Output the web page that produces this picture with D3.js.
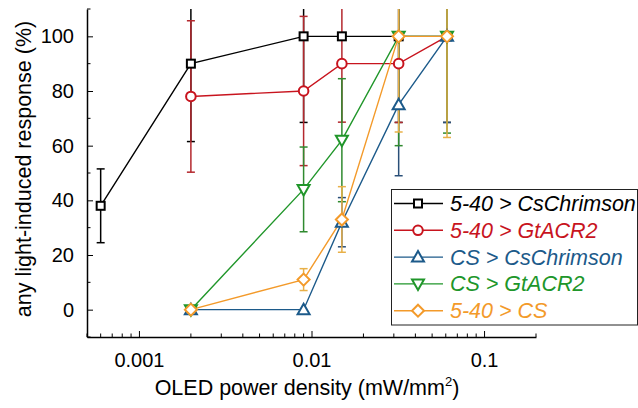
<!DOCTYPE html>
<html>
<head>
<meta charset="utf-8">
<script src="https://cdn.jsdelivr.net/npm/d3@7"></script>
<style>
  body { margin: 0; background: #fff; }
  text { font-family: "Liberation Sans", Arial, sans-serif; }
</style>
</head>
<body>
<svg width="638" height="408"></svg>
<script>
// OLED power density (mW/mm2) per stimulus step
var doses = [0.0006, 0.002, 0.009, 0.015, 0.032, 0.061];

var names = ["5-40 > CsChrimson", "5-40 > GtACR2", "CS > CsChrimson", "CS > GtACR2", "5-40 > CS"];
var colors = ["#000000", "#c8141e", "#1c5a8a", "#20962a", "#f39a2a"];
var barColors = ["#000000", "#b4282e", "#2a4f78", "#2f8a2f", "#e8b048"];
var symbols = ["square", "circle", "up", "down", "diamond"];

// response (%) and error, null where no point
var chrimson540 = [38, 90, 100, 100, 100, 100];
var chrimson540Err = [13.5, 28.5, 31.5, 0, 31.5, 31.5];
var gtacr540 = [null, 78, 80, 90, 90, 100];
var gtacr540Err = [null, 27.7, 27.3, 21.4, 21.5, 0];
var chrimsonCS = [null, 0, 0, 32, 75, 100];
var chrimsonCSErr = [null, 0, 0, 9, 26, 31.5];
var gtacrCS = [null, 0, 44, 62, 100, 100];
var gtacrCSErr = [null, 0, 15.5, 22.5, 40, 35.4];
var cs540 = [null, 0, 11, 33, 100, 100];
var cs540Err = [null, 0, 4, 12, 35, 37];

var yTicks = [0, 20, 40, 60, 80, 100];
var xTicks = [0.001, 0.01, 0.1];

var values = [chrimson540, gtacr540, chrimsonCS, gtacrCS, cs540];
var errors = [chrimson540Err, gtacr540Err, chrimsonCSErr, gtacrCSErr, cs540Err];

var margin = {left: 87, right: 102, top: 9, bottom: 71};
var width = 638, height = 408;

var x = d3.scaleLog().domain([0.0005, 0.2]).range([margin.left, width - margin.right]);
var y = d3.scaleLinear().domain([-10, 110]).range([height - margin.bottom, margin.top]);

var svg = d3.select("svg");

svg.append("clipPath").attr("id", "plot")
  .append("rect")
  .attr("x", margin.left).attr("y", margin.top)
  .attr("width", width - margin.left - margin.right)
  .attr("height", height - margin.top - margin.bottom);

// series as point lists
var series = values.map(function (vals, i) {
  var pts = [];
  vals.forEach(function (v, j) {
    if (v !== null) pts.push({x: doses[j], y: v, e: errors[i][j]});
  });
  return {name: names[i], color: colors[i], bar: barColors[i], sym: symbols[i], pts: pts};
});

var plot = svg.append("g").attr("clip-path", "url(#plot)");

// error bars first
series.forEach(function (s) {
  var g = plot.append("g");
  s.pts.filter(function (p) { return p.e > 0; }).forEach(function (p) {
    var cx = x(p.x);
    g.append("line").attr("x1", cx).attr("x2", cx)
      .attr("y1", y(p.y - p.e)).attr("y2", y(p.y + p.e))
      .attr("stroke", s.bar).attr("stroke-width", 1.5);
    [p.y - p.e, p.y + p.e].forEach(function (v) {
      g.append("line").attr("x1", cx - 4).attr("x2", cx + 4)
        .attr("y1", y(v)).attr("y2", y(v))
        .attr("stroke", s.bar).attr("stroke-width", 1.5);
    });
  });
});

var line = d3.line().x(function (d) { return x(d.x); }).y(function (d) { return y(d.y); });

series.forEach(function (s) {
  plot.append("path").datum(s.pts)
    .attr("d", line).attr("fill", "none")
    .attr("stroke", s.color).attr("stroke-width", 1.4);
});

function drawSymbol(g, kind, cx, cy, color) {
  var m;
  if (kind === "square") {
    m = g.append("rect").attr("x", cx - 4).attr("y", cy - 4).attr("width", 8).attr("height", 8);
  } else if (kind === "circle") {
    m = g.append("circle").attr("cx", cx).attr("cy", cy).attr("r", 4.8);
  } else if (kind === "up") {
    m = g.append("path").attr("d", "M" + cx + "," + (cy - 6) + "L" + (cx + 6) + "," + (cy + 4.5) + "L" + (cx - 6) + "," + (cy + 4.5) + "Z");
  } else if (kind === "down") {
    m = g.append("path").attr("d", "M" + cx + "," + (cy + 6) + "L" + (cx + 6) + "," + (cy - 4.5) + "L" + (cx - 6) + "," + (cy - 4.5) + "Z");
  } else {
    m = g.append("path").attr("d", "M" + cx + "," + (cy - 6) + "L" + (cx + 6) + "," + cy + "L" + cx + "," + (cy + 6) + "L" + (cx - 6) + "," + cy + "Z");
  }
  m.attr("fill", "#fff").attr("stroke", color).attr("stroke-width", 2);
}

series.forEach(function (s) {
  var g = svg.append("g");
  s.pts.forEach(function (p) { drawSymbol(g, s.sym, x(p.x), y(p.y), s.color); });
});

// axes, ticks pointing inward
var xAxis = d3.axisBottom(x).tickValues(xTicks).tickFormat(d3.format("")).tickSizeInner(-6).tickSizeOuter(0).tickPadding(16);
var gx = svg.append("g").attr("transform", "translate(0," + (height - margin.bottom) + ")").call(xAxis);
var minorX = x.ticks().filter(function (t) { return xTicks.indexOf(t) < 0; });
gx.selectAll(".minor").data(minorX).enter().append("line")
  .attr("x1", function (d) { return x(d); }).attr("x2", function (d) { return x(d); })
  .attr("y1", 0).attr("y2", -3.5).attr("stroke", "#000");

var yAxis = d3.axisLeft(y).tickValues(yTicks).tickSizeInner(-6).tickSizeOuter(0).tickPadding(13);
var gy = svg.append("g").attr("transform", "translate(" + margin.left + ",0)").call(yAxis);
gy.selectAll(".minor").data([-10, 10, 30, 50, 70, 90, 110]).enter().append("line")
  .attr("x1", 0).attr("x2", 3.5)
  .attr("y1", function (d) { return y(d); }).attr("y2", function (d) { return y(d); })
  .attr("stroke", "#000");

[gx, gy].forEach(function (g) {
  g.select(".domain").attr("stroke-width", 1.5);
  g.selectAll("text").attr("font-size", 20).attr("fill", "#000")
    .style("font-family", "'Liberation Sans', Arial, sans-serif");
});

svg.append("text")
  .attr("transform", "translate(31," + 169 + ") rotate(-90)")
  .attr("text-anchor", "middle").attr("font-size", 21.5)
  .text("any light-induced response (%)");

var xt = svg.append("text")
  .attr("x", 307).attr("y", 395)
  .attr("text-anchor", "middle").attr("font-size", 21.5)
  .text("OLED power density (mW/mm");
xt.append("tspan").attr("font-size", 13).attr("dy", -9).text("2");
xt.append("tspan").attr("dy", 9).text(")");

// legend
var lg = svg.append("g");
lg.append("rect").attr("x", 391.5).attr("y", 189.5).attr("width", 246).attr("height", 135.5)
  .attr("fill", "#fff").attr("stroke", "#222").attr("stroke-width", 1);
series.forEach(function (s, i) {
  var ly = 203.5 + i * 26.8;
  lg.append("line").attr("x1", 394).attr("x2", 443).attr("y1", ly).attr("y2", ly)
    .attr("stroke", s.color).attr("stroke-width", 1.4);
  drawSymbol(lg, s.sym, 418, ly, s.color);
  lg.append("text").attr("x", 450).attr("y", ly + 7.5)
    .attr("font-size", 21.5).attr("font-style", "italic").attr("fill", s.color)
    .text(s.name);
});
</script>
</body>
</html>
